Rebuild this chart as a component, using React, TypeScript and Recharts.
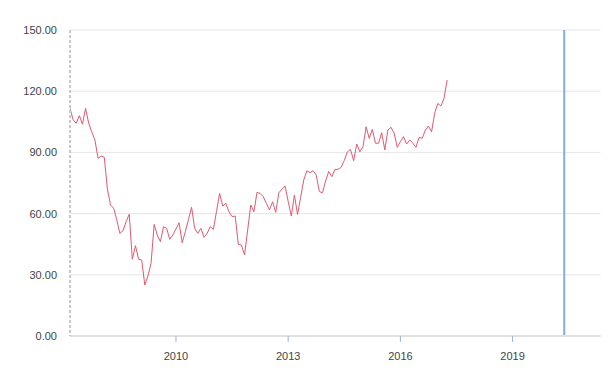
import { CartesianGrid, Line, LineChart, ReferenceLine, XAxis, YAxis } from "recharts";

const RED = "#df5a70";
const BLUE = "#85abe8";
const GRID = "#e6e6e6";
const TEXT = "#444";

// monthly series, first point March 2007
const START_YEAR = 2007;
const START_MONTH = 2; // 0-based
const VALUES = [
  111.6, 106, 104.3, 108, 103.8, 111.6, 104.3, 100, 96.1, 87.1,
  88.2, 87.6, 72, 64.2, 62.6, 57, 50.3, 51.6, 56, 59.7,
  37.6, 44.3, 37.6, 37.3, 25, 29.4, 35.6, 54.7, 49.5, 46.2,
  53.6, 52.8, 47.4, 49.5, 52.5, 55.5, 45.7, 51.1, 57, 63.1,
  52.8, 50.3, 52.8, 48.4, 50.3, 53.6, 52.3, 61, 69.9, 63.7,
  65, 60.9, 58.5, 58.8, 44.9, 44.6, 39.7, 52, 64.2, 60.9,
  70.4, 69.9, 68.3, 65, 61.8, 65.8, 60.6, 70.2, 72, 73.5,
  66, 58.8, 69.1, 59.6, 68, 76.5, 81.0, 80.1, 81.0, 78.9,
  70.8, 70.2, 76, 80.6, 78.1, 81.7, 81.7, 82.7, 86, 90.3,
  91.5, 85.9, 94.1, 90.3, 92.8, 102.6, 96.9, 101.3, 94.5, 94.5,
  99.7, 91.2, 101, 102.3, 99.4, 92.5, 95.3, 97.7, 94.1, 96.1,
  94.5, 92.5, 97.4, 96.9, 101, 102.9, 100.1, 109.2, 114, 112.7,
  116.5, 125.5,
];

const X_TICKS = [2010, 2013, 2016, 2019];
const Y_TICKS = [0, 30, 60, 90, 120, 150];
const X_MAX = 2021.35;
const MARKER_X = 2020.38;

const data = VALUES.map((v, i) => ({
  t: START_YEAR + (START_MONTH + i) / 12,
  v,
}));

export default function App() {
  return (
    <div style={{ position: "absolute", left: 0, top: 0 }}>
      <LineChart
        width={611}
        height={379}
        data={data}
        margin={{ top: 30, right: 10.5, bottom: 13, left: 0 }}
        style={{ fontFamily: "Arial, 'Liberation Sans', sans-serif" }}
      >
        <CartesianGrid stroke={GRID} vertical={false} />
        <XAxis
          dataKey="t"
          type="number"
          domain={[START_YEAR + START_MONTH / 12, X_MAX]}
          ticks={X_TICKS}
          tick={{ fill: TEXT, fontSize: 11 }}
          tickLine={{ stroke: "#9fb3cc" }}
          tickSize={6}
          tickMargin={10}
          axisLine={{ stroke: "#e0e0e0", strokeWidth: 2 }}
          height={30}
          allowDataOverflow
        />
        <YAxis
          domain={[0, 150]}
          ticks={Y_TICKS}
          tickFormatter={(v) => v.toFixed(2)}
          tick={{ fill: TEXT, fontSize: 11 }}
          tickLine={false}
          tickSize={6}
          tickMargin={7}
          axisLine={{ stroke: "#c8c8c8", strokeWidth: 2, strokeDasharray: "3 2" }}
          width={70}
        />
        <ReferenceLine x={MARKER_X} stroke={BLUE} strokeWidth={2} />
        <Line
          type="linear"
          dataKey="v"
          stroke={RED}
          strokeWidth={1}
          dot={false}
          isAnimationActive={false}
        />
      </LineChart>
    </div>
  );
}
